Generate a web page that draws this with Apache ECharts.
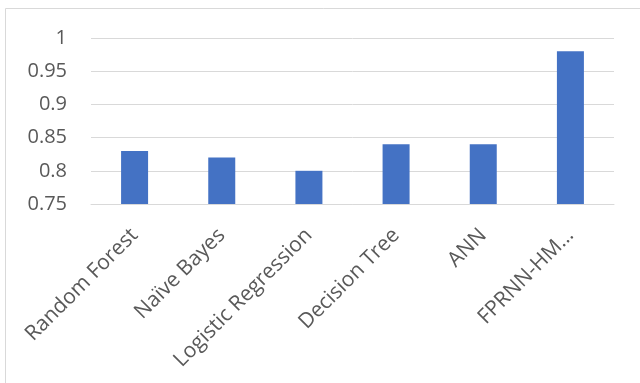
<!DOCTYPE html>
<html>
<head>
<meta charset="utf-8">
<script src="https://cdn.jsdelivr.net/npm/echarts@6/dist/echarts.min.js"></script>
<style>
  html, body { margin: 0; padding: 0; background: #fff; }
  #chart { width: 640px; height: 383px; }
</style>
</head>
<body>
<div id="chart"></div>
<script>
const categories = ["Random Forest", "Naïve Bayes", "Logistic Regression", "Decision Tree", "ANN", "FPRNN-HM…"];
const accuracy = [0.83, 0.82, 0.80, 0.84, 0.84, 0.98];
const yMin = 0.75;
const yMax = 1;
const yStep = 0.05;

const chart = echarts.init(document.getElementById("chart"));
chart.setOption({
  animation: false,
  graphic: [
    {
      type: "rect",
      shape: { x: 5.5, y: 8.5, width: 700, height: 500 },
      style: { fill: "none", stroke: "#d9d9d9", lineWidth: 1 },
      silent: true,
    },
  ],
  grid: { left: 91, right: 26, top: 38, bottom: 179 },
  xAxis: {
    type: "category",
    data: categories,
    axisLine: { lineStyle: { color: "#d9d9d9", width: 1 } },
    axisTick: { show: false },
    axisLabel: {
      interval: 0,
      rotate: 45,
      margin: 28,
      color: "#595959",
      fontSize: 21,
      fontFamily: "Open Sans",
    },
  },
  yAxis: {
    type: "value",
    min: yMin,
    max: yMax,
    interval: yStep,
    axisLine: { show: false },
    axisTick: { show: false },
    splitLine: { lineStyle: { color: "#d9d9d9", width: 1 } },
    axisLabel: {
      margin: 24,
      color: "#595959",
      fontSize: 20,
      fontFamily: "Open Sans",
      formatter: (v) => String(+v.toFixed(2)),
    },
  },
  series: [
    {
      type: "bar",
      data: accuracy,
      barWidth: 27,
      itemStyle: { color: "#4472c4" },
    },
  ],
});
</script>
</body>
</html>
